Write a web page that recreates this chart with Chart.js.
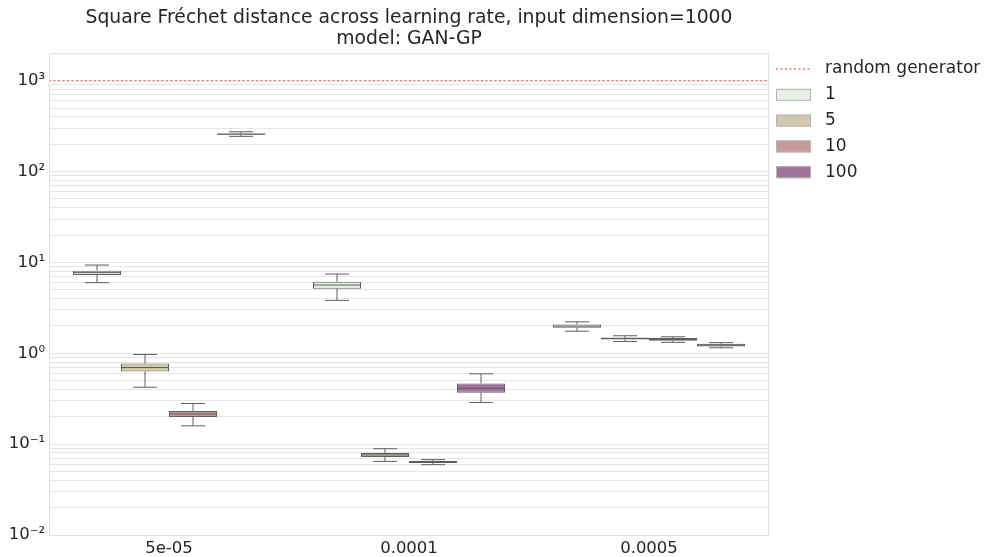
<!DOCTYPE html>
<html>
<head>
<meta charset="utf-8">
<title>Square Fréchet distance across learning rate</title>
<script src="https://cdn.jsdelivr.net/npm/chart.js@4.4.1/dist/chart.umd.min.js"></script>
<style>
  html, body { margin: 0; padding: 0; background: #fff; }
  #wrap { width: 985px; height: 557px; }
</style>
</head>
<body>
<div id="wrap"><canvas id="fdChart" width="985" height="557"></canvas></div>
<script>
// learning rates on the x axis, one box per hue (input scale) in each group
const learningRates = ['5e-05', '0.0001', '0.0005'];
const hueLabels = ['1', '5', '10', '100'];
const hueColors = ['#e9f1e7', '#d1c9ad', '#c69a99', '#a0739b'];

// box statistics, rows = hue, columns = learning rate
const whiskerLow = [
    [5.99, 3.82, 1.75],
    [0.423, 0.0646, 1.35],
    [0.159, 0.0594, 1.32],
    [244, 0.287, 1.15]
];
const quartile1 = [
    [7.26, 5.14, 1.91],
    [0.630, 0.0722, 1.42],
    [0.1995, 0.0621, 1.37],
    [254, 0.367, 1.19]
];
const medians = [
    [7.72, 5.64, 1.99],
    [0.697, 0.0760, 1.46],
    [0.215, 0.0637, 1.42],
    [258, 0.412, 1.23]
];
const quartile3 = [
    [8.12, 6.14, 2.08],
    [0.772, 0.0800, 1.48],
    [0.232, 0.0653, 1.47],
    [263, 0.465, 1.27]
];
const whiskerHigh = [
    [9.36, 7.45, 2.22],
    [0.97, 0.0891, 1.56],
    [0.280, 0.0675, 1.52],
    [274, 0.594, 1.31]
];

const randomGenerator = 1000;
const randomLabel = 'random generator';

// y axis: log scale, labelled decades
const decadeExponents = [-2, -1, 0, 1, 2, 3];
const decadeLabels = ['10\u207B\u00B2', '10\u207B\u00B9', '10\u2070', '10\u00B9', '10\u00B2', '10\u00B3'];
const yMin = 0.01;
const yMax = 2000;

const EDGE = '#5e5e5e';
const TEXT = '#262626';
const GRID = '#e6e6e6';
const FONT = '"DejaVu Sans", "Liberation Sans", sans-serif';

function buildYTicks() {
    const ticks = [];
    decadeExponents.forEach(e => {
        for (let m = 1; m <= 9; m++) {
            const v = m * Math.pow(10, e);
            if (v <= yMax) ticks.push({ value: v, major: m === 1 });
        }
    });
    return ticks;
}

const boxExtras = {
    id: 'boxExtras',
    beforeDraw(chart) {
        const ctx = chart.ctx;
        ctx.save();
        ctx.fillStyle = '#fff';
        ctx.fillRect(0, 0, chart.width, chart.height);
        ctx.restore();
    },
    afterDatasetsDraw(chart) {
        const ctx = chart.ctx;
        const y = chart.scales.y;
        const area = chart.chartArea;
        ctx.save();
        ctx.strokeStyle = EDGE;
        ctx.lineWidth = 1;
        chart.data.datasets.forEach((ds, i) => {
            const meta = chart.getDatasetMeta(i);
            meta.data.forEach((bar, j) => {
                const x = bar.x;
                const half = bar.width / 2;
                const cap = bar.width / 4;
                const yLo = y.getPixelForValue(whiskerLow[i][j]);
                const yQ1 = y.getPixelForValue(quartile1[i][j]);
                const yMed = y.getPixelForValue(medians[i][j]);
                const yQ3 = y.getPixelForValue(quartile3[i][j]);
                const yHi = y.getPixelForValue(whiskerHigh[i][j]);
                ctx.beginPath();
                // whiskers
                ctx.moveTo(x, yQ3); ctx.lineTo(x, yHi);
                ctx.moveTo(x, yQ1); ctx.lineTo(x, yLo);
                // caps
                ctx.moveTo(x - cap, yHi); ctx.lineTo(x + cap, yHi);
                ctx.moveTo(x - cap, yLo); ctx.lineTo(x + cap, yLo);
                // median
                ctx.moveTo(x - half, yMed); ctx.lineTo(x + half, yMed);
                ctx.stroke();
            });
        });

        // random generator reference line
        const yr = y.getPixelForValue(randomGenerator);
        ctx.strokeStyle = '#f27b7b';
        ctx.lineWidth = 1.5;
        ctx.setLineDash([2, 2.5]);
        ctx.beginPath();
        ctx.moveTo(area.left, yr);
        ctx.lineTo(area.right, yr);
        ctx.stroke();
        ctx.setLineDash([]);

        // frame
        ctx.strokeStyle = '#e2e2e2';
        ctx.lineWidth = 1;
        ctx.strokeRect(area.left + 0.5, area.top + 0.5, area.right - area.left - 1, area.bottom - area.top);
        ctx.restore();
    },
    afterDraw(chart) {
        // legend to the right of the axes
        const ctx = chart.ctx;
        const x0 = chart.chartArea.right + 7;
        const tx = x0 + 49;
        const rowH = 25.8;
        let yy = 69;
        ctx.save();
        ctx.font = '17px ' + FONT;
        ctx.fillStyle = TEXT;
        ctx.textBaseline = 'middle';
        ctx.strokeStyle = '#f27b7b';
        ctx.lineWidth = 1.5;
        ctx.setLineDash([2, 2.5]);
        ctx.beginPath();
        ctx.moveTo(x0, yy);
        ctx.lineTo(x0 + 35, yy);
        ctx.stroke();
        ctx.setLineDash([]);
        ctx.fillText(randomLabel, tx, yy);
        hueLabels.forEach((lab, i) => {
            yy = 69 + rowH * (i + 1);
            ctx.fillStyle = hueColors[i];
            ctx.fillRect(x0, yy - 6, 35, 12);
            ctx.strokeStyle = '#b5b5b5';
            ctx.lineWidth = 1;
            ctx.strokeRect(x0 + 0.5, yy - 5.5, 34, 11);
            ctx.fillStyle = TEXT;
            ctx.fillText(lab, tx, yy);
        });
        ctx.restore();
    }
};

const datasets = hueLabels.map((lab, i) => ({
    label: lab,
    data: learningRates.map((_, j) => [quartile1[i][j], quartile3[i][j]]),
    backgroundColor: hueColors[i],
    borderColor: EDGE,
    borderWidth: 1,
    borderSkipped: false,
    categoryPercentage: 0.8,
    barPercentage: 1.0
}));

new Chart(document.getElementById('fdChart'), {
    type: 'bar',
    data: { labels: learningRates, datasets },
    options: {
        responsive: false,
        animation: false,
        devicePixelRatio: 1,
        layout: { padding: { left: 0, right: 216, top: 0, bottom: 0 } },
        plugins: {
            legend: { display: false },
            tooltip: { enabled: false },
            title: {
                display: true,
                fullSize: false,
                text: ['Square Fréchet distance across learning rate, input dimension=1000', 'model: GAN-GP'],
                color: TEXT,
                font: { family: FONT, size: 18.8, weight: 'normal', lineHeight: 1.1 },
                padding: { top: 8, bottom: 4 }
            }
        },
        scales: {
            x: {
                type: 'category',
                offset: true,
                grid: { display: false, drawTicks: false },
                border: { display: false },
                ticks: { color: TEXT, padding: 4, font: { family: FONT, size: 16.5 } },
                afterFit(axis) { axis.height = 22; }
            },
            y: {
                type: 'logarithmic',
                min: yMin,
                max: yMax,
                grid: { color: GRID, lineWidth: 1, drawTicks: false },
                border: { display: false },
                afterBuildTicks(axis) { axis.ticks = buildYTicks(); },
                afterFit(axis) { axis.width = 49; },
                ticks: {
                    autoSkip: false,
                    color: TEXT,
                    padding: 4,
                    font: { family: FONT, size: 16.5 },
                    callback(value) {
                        const e = Math.round(Math.log10(value));
                        if (Math.abs(value - Math.pow(10, e)) > 1e-12 * Math.pow(10, e)) return '';
                        const k = decadeExponents.indexOf(e);
                        return k >= 0 ? decadeLabels[k] : '';
                    }
                }
            }
        }
    },
    plugins: [boxExtras]
});
</script>
</body>
</html>
